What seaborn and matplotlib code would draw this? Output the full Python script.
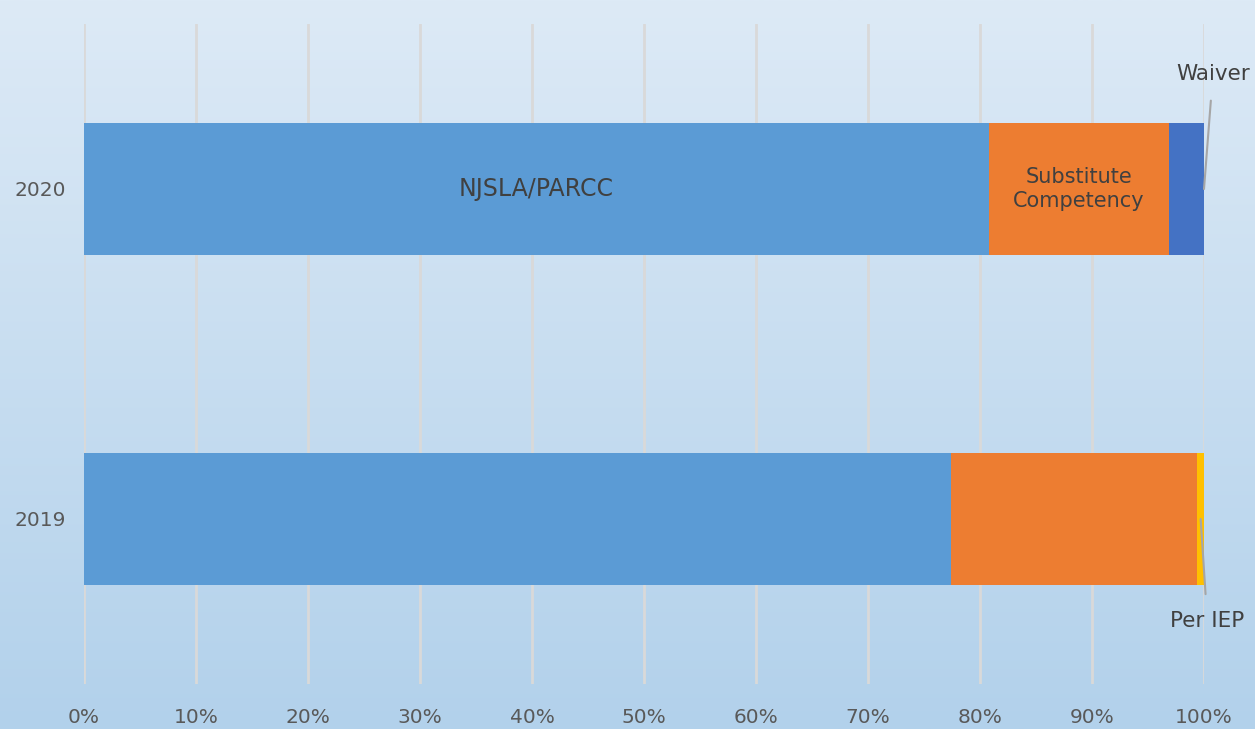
import numpy as np
import pandas as pd
import seaborn as sns
import matplotlib

matplotlib.use('Agg')
import matplotlib.pyplot as plt
from matplotlib.ticker import PercentFormatter

# data (share of graduates by pathway)
years = ['2020', '2019']
njsla = [80.8, 77.4]
substitute = [16.1, 22.0]
waiver = [3.1, 0.0]
per_iep = [0.0, 0.6]
x_ticks = [0, 10, 20, 30, 40, 50, 60, 70, 80, 90, 100]

df = pd.DataFrame({'year': years, 'NJSLA/PARCC': njsla,
                   'Substitute Competency': substitute,
                   'Waiver': waiver, 'Per IEP': per_iep})
segments = ['NJSLA/PARCC', 'Substitute Competency', 'Waiver', 'Per IEP']
colors = {'NJSLA/PARCC': '#5B9BD5', 'Substitute Competency': '#ED7D31',
          'Waiver': '#4472C4', 'Per IEP': '#FFC000'}
# cumulative totals so each layer can be drawn on top of the next
cum = df[segments].cumsum(axis=1)

sns.set_style('white')
plt.rcParams['font.family'] = ['DejaVu Sans']

fig = plt.figure(figsize=(12.55, 7.29), dpi=100)

# gradient background
bg = fig.add_axes([0, 0, 1, 1], zorder=0)
grad = np.linspace(0, 1, 256).reshape(-1, 1)
top = np.array([0xDD, 0xEA, 0xF6]) / 255
bot = np.array([0xB2, 0xD1, 0xEB]) / 255
img = top + (bot - top) * grad[:, :, None]
bg.imshow(img, aspect='auto', extent=[0, 1, 0, 1])
bg.axis('off')

ax = fig.add_axes([84 / 1255, 45 / 729, 1120 / 1255, 660 / 729], zorder=1)
ax.patch.set_alpha(0)

for seg in reversed(segments):
    sns.barplot(x=cum[seg], y=df['year'], order=years, color=colors[seg],
                orient='h', width=0.4, saturation=1, linewidth=0,
                ax=ax, zorder=3)

ax.set_xlim(0, 100)
ax.set_ylim(1.5, -0.5)
ax.set_xticks(x_ticks)
ax.xaxis.set_major_formatter(PercentFormatter(decimals=0))
ax.grid(axis='x', color='#D9D9D9', linewidth=2, zorder=0)
ax.set_axisbelow(True)
for s in ax.spines.values():
    s.set_visible(False)
ax.tick_params(length=0, labelsize=14.5, colors='#595959')
ax.tick_params(axis='x', pad=17)
ax.tick_params(axis='y', pad=13)
ax.set_xlabel('')
ax.set_ylabel('')

# segment labels
ax.text(njsla[0] / 2, 0, 'NJSLA/PARCC', ha='center', va='center',
        fontsize=17, color='#404040', zorder=5)
ax.text(njsla[0] + substitute[0] / 2, 0, 'Substitute\nCompetency',
        ha='center', va='center', fontsize=15, color='#404040',
        linespacing=1.2, zorder=5)
ax.annotate('Waiver', xy=(100, 0), xytext=(100.8, -0.35),
            ha='center', va='center', fontsize=15.5, color='#404040',
            annotation_clip=False, zorder=5,
            arrowprops=dict(arrowstyle='-', color='#A6A6A6', lw=1.5,
                            shrinkA=10, shrinkB=0))
ax.annotate('Per IEP', xy=(99.7, 1), xytext=(100.3, 1.31),
            ha='center', va='center', fontsize=15.5, color='#404040',
            annotation_clip=False, zorder=5,
            arrowprops=dict(arrowstyle='-', color='#A6A6A6', lw=1.5,
                            shrinkA=10, shrinkB=0))

fig.savefig('out.png', dpi=100)
